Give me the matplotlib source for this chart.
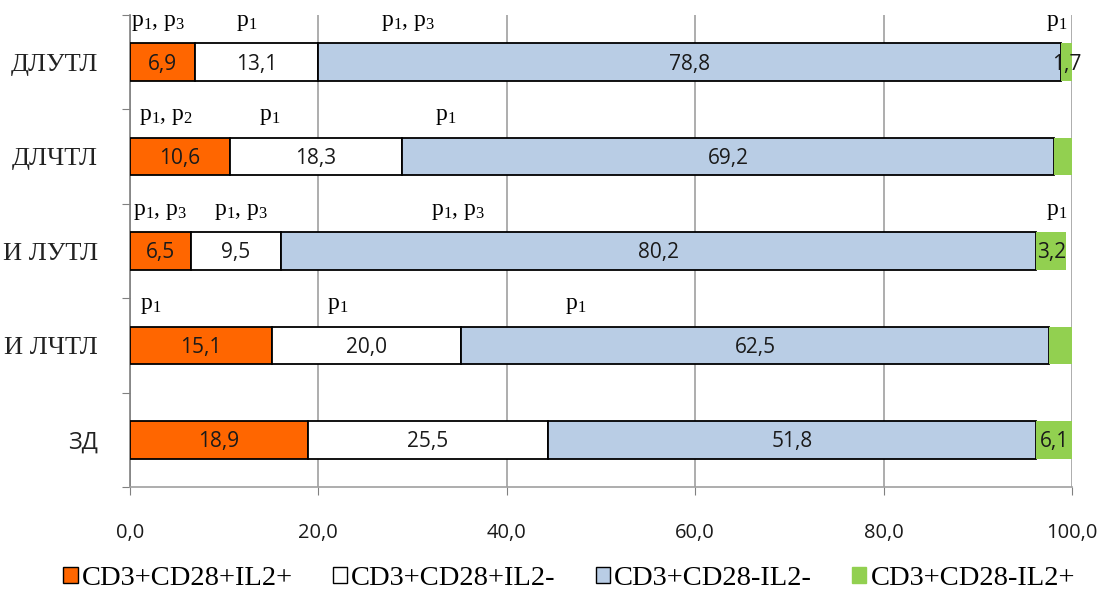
import matplotlib
matplotlib.use("Agg")
import matplotlib.pyplot as plt
from matplotlib.patches import Patch
import numpy as np

plt.rcParams['mathtext.fontset'] = 'custom'
plt.rcParams['mathtext.rm'] = 'Liberation Serif'
plt.rcParams['mathtext.it'] = 'Liberation Serif:italic'

categories = ["ДЛУТЛ", "ДЛЧТЛ", "И ЛУТЛ", "И ЛЧТЛ", "ЗД"]
series_names = ["CD3+CD28+IL2+", "CD3+CD28+IL2-", "CD3+CD28-IL2-", "CD3+CD28-IL2+"]
s1 = [6.9, 10.6, 6.5, 15.1, 18.9]
s2 = [13.1, 18.3, 9.5, 20.0, 25.5]
s3 = [78.8, 69.2, 80.2, 62.5, 51.8]
s4 = [1.7, 1.9, 3.2, 2.4, 6.1]
s4_labels = ["1,7", "", "3,2", "", "6,1"]
xticks = [0, 20, 40, 60, 80, 100]
xticklabels = ["0,0", "20,0", "40,0", "60,0", "80,0", "100,0"]

P1 = r"$\mathrm{p}_1$"
P13 = r"$\mathrm{p}_1$, $\mathrm{p}_3$"
P12 = r"$\mathrm{p}_1$, $\mathrm{p}_2$"
# significance annotations: (category index, x position, text)
annotations = [
    (0, 3.0, P13), (0, 12.4, P1), (0, 29.5, P13), (0, 98.4, P1),
    (1, 3.8, P12), (1, 14.8, P1), (1, 33.5, P1),
    (2, 3.2, P13), (2, 11.8, P13), (2, 34.8, P13), (2, 98.4, P1),
    (3, 2.2, P1), (3, 22.0, P1), (3, 47.3, P1),
]

colors = ["#FF6600", "#FFFFFF", "#B9CDE5", "#92D050"]
edges = ["black", "black", "black", "none"]

fig = plt.figure(figsize=(11.05, 5.96), dpi=100)
ax = fig.add_axes([0.1176, 0.1829, 0.8525, 0.7919])

y = np.arange(len(categories))
h = 0.4
left = np.zeros(len(categories))
all_series = [s1, s2, s3, s4]
for i, vals in enumerate(all_series):
    vals = np.array(vals)
    ax.barh(y, vals, left=left, height=h, color=colors[i], edgecolor=edges[i],
            linewidth=1.3, zorder=3)
    for j in range(len(categories)):
        start = left[j]
        end = min(start + vals[j], 100)
        cx = (start + end) / 2
        if i < 3:
            txt = f"{vals[j]:.1f}".replace(".", ",")
        else:
            txt = s4_labels[j]
        if txt:
            ax.text(cx, y[j] + 0.02, txt, ha="center", va="center", fontsize=15,
                    family="Open Sans", color="#1a1a1a", zorder=5, clip_on=False)
    left = left + vals

for ci, xv, t in annotations:
    ax.text(xv, ci - 0.31, t, ha="center", va="bottom", fontsize=17,
            family="Liberation Serif", zorder=5)

ax.set_xlim(0, 100)
ax.set_ylim(len(categories) - 0.5, -0.5)
ax.set_xticks(xticks)
ax.set_xticklabels(xticklabels, family="Open Sans", fontsize=14.5, color="#1a1a1a")
ax.set_yticks(np.arange(len(categories) + 1) - 0.5, minor=False)
ax.set_yticklabels([])
ax.set_yticks(y, minor=True)
ax.set_yticklabels(categories, minor=True)
for k, lab in enumerate(ax.get_yticklabels(minor=True)):
    if categories[k] == "ЗД":
        lab.set_family("Open Sans")
        lab.set_fontsize(17)
    else:
        lab.set_family("Liberation Serif")
        lab.set_fontsize(19)
    lab.set_color("#222222")
ax.tick_params(axis="y", which="minor", length=0, pad=23)
ax.tick_params(axis="y", which="major", length=6, direction="out", color="#808080")
ax.tick_params(axis="x", length=6, direction="out", color="#808080", pad=20)

ax.grid(axis="x", color="#A0A0A0", linewidth=1.2, zorder=0)
for s in ["top", "right"]:
    ax.spines[s].set_visible(False)
ax.spines["left"].set_color("#808080")
ax.spines["bottom"].set_color("#A0A0A0")
ax.spines["left"].set_linewidth(1.2)
ax.spines["bottom"].set_linewidth(1.2)

handles = [Patch(facecolor=colors[i], edgecolor=("black" if edges[i] != "none" else colors[i]),
                 linewidth=1.0) for i in range(4)]
fig.legend(handles, series_names, loc="lower center", bbox_to_anchor=(0.515, -0.035), ncol=4,
           frameon=False, prop={"family": "Liberation Serif", "size": 20.5},
           handlelength=0.5, handleheight=0.5, handletextpad=0.15, columnspacing=1.4)

fig.savefig("out.png", dpi=100)
